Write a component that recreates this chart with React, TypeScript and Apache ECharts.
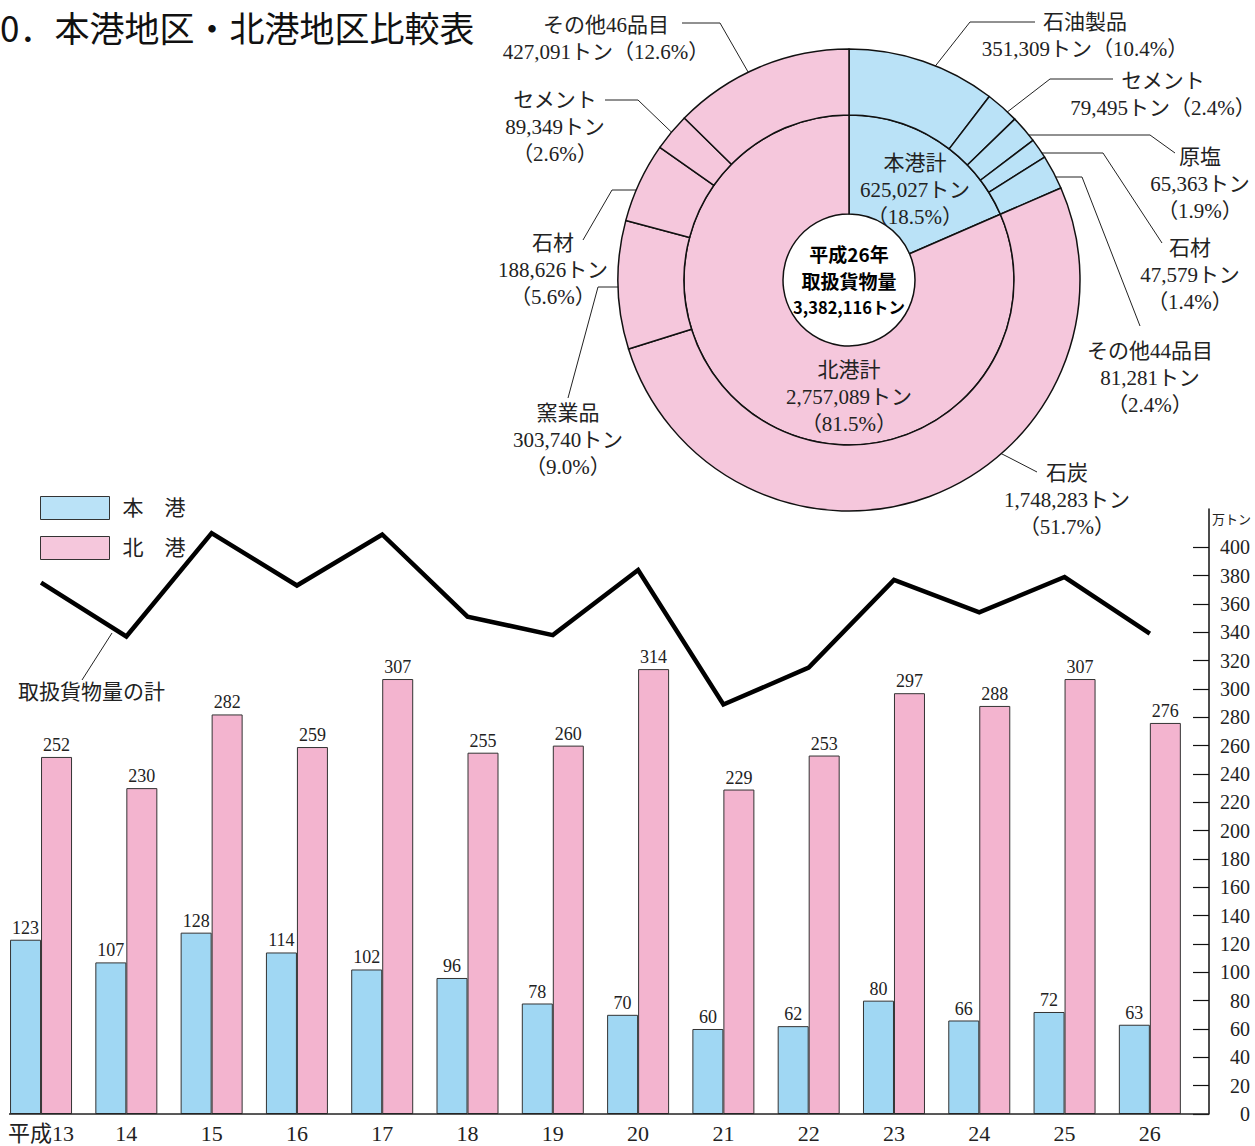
import React, { useEffect, useRef } from "react";
import * as echarts from "echarts";

// ---- bar / line data (万トン) ----
const years = ["平成13", "14", "15", "16", "17", "18", "19", "20", "21", "22", "23", "24", "25", "26"];
const honkoValues = [123, 107, 128, 114, 102, 96, 78, 70, 60, 62, 80, 66, 72, 63];
const hokkoValues = [252, 230, 282, 259, 307, 255, 260, 314, 229, 253, 297, 288, 307, 276];
const totalValues = [375, 337, 410, 373, 409, 351, 338, 384, 289, 315, 377, 354, 379, 339];
const yTickValues = [0, 20, 40, 60, 80, 100, 120, 140, 160, 180, 200, 220, 240, 260, 280, 300, 320, 340, 360, 380, 400];

// ---- donut data (トン) ----
const grandTotal = 3382116;
const innerNames = ["本港計", "北港計"];
const innerValues = [625027, 2757089];
const innerPct = ["18.5", "81.5"];
const outerNames = ["石油製品", "セメント", "原塩", "石材", "その他44品目", "石炭", "窯業品", "石材", "セメント", "その他46品目"];
const outerValues = [351309, 79495, 65363, 47579, 81281, 1748283, 303740, 188626, 89349, 427091];
const outerPct = ["10.4", "2.4", "1.9", "1.4", "2.4", "51.7", "9.0", "5.6", "2.6", "12.6"];
const outerPort = [0, 0, 0, 0, 0, 1, 1, 1, 1, 1]; // 0 本港, 1 北港

// ---- styling / layout (not data) ----
const PIE_BLUE = "#bae2f7";
const PIE_PINK = "#f5c7dc";
const BAR_BLUE = "#a0d7f3";
const BAR_PINK = "#f3b4cf";
const SERIF = "'Liberation Serif', 'Noto Sans CJK JP', serif";
const SANS = "'Noto Sans CJK JP', sans-serif";
const PIE_CENTER = [849, 280];
const outerLines = [2, 2, 3, 3, 3, 3, 3, 3, 3, 2];
const outerLabelPos = [
  [1085, 35], [1163, 94], [1200, 184], [1190, 275], [1150, 378],
  [1067, 500], [568, 440], [553, 270], [555, 127], [606, 38],
];
const outerLeader = [
  [[918, 88], [970, 22], [1035, 22]],
  [[993, 123], [1050, 79], [1113, 79]],
  [[1020, 135], [1150, 135], [1175, 153]],
  [[1030, 153], [1103, 153], [1162, 243]],
  [[1042, 177], [1082, 177], [1140, 326]],
  [[978, 442], [1008, 457], [1037, 472]],
  [[638, 287], [598, 287], [568, 398]],
  [[663, 190], [612, 190], [583, 240]],
  [[688, 148], [638, 100], [605, 100]],
  [[763, 98], [720, 23], [682, 23]],
];
const innerLabelPos = [[915, 190], [849, 397]];

const fmt = (v: number) => v.toLocaleString("en-US");

export default function App() {
  const ref = useRef<HTMLDivElement>(null);
  useEffect(() => {
    if (!ref.current) return;
    const chart = echarts.init(ref.current, undefined, { renderer: "svg" });

    const outerData = outerNames.map((n, i) => ({
      name: n,
      value: outerValues[i],
      itemStyle: { color: outerPort[i] === 0 ? PIE_BLUE : PIE_PINK },
    }));
    const innerData = innerNames.map((n, i) => ({
      name: n,
      value: innerValues[i],
      itemStyle: { color: i === 0 ? PIE_BLUE : PIE_PINK },
    }));

    const option: any = {
      animation: false,
      title: {
        text: "0．本港地区・北港地区比較表",
        left: -5,
        top: 4,
        textStyle: { fontSize: 35, fontWeight: "normal", fontFamily: SANS, color: "#111" },
      },
      legend: {
        orient: "vertical",
        left: 35,
        top: 491,
        itemWidth: 69,
        itemHeight: 23,
        itemGap: 16,
        icon: "rect",
        selectedMode: false,
        textStyle: { fontSize: 21, fontFamily: SERIF, color: "#222", padding: [0, 0, 0, 8] },
        data: [
          { name: "本　港", itemStyle: { color: PIE_BLUE, borderColor: "#333", borderWidth: 1 } },
          { name: "北　港", itemStyle: { color: PIE_PINK, borderColor: "#333", borderWidth: 1 } },
        ],
      },
      grid: { left: -1.6, right: 62.5, top: 509, bottom: 32, containLabel: false, outerBoundsMode: "none" },
      xAxis: {
        type: "category",
        data: years,
        axisLine: { show: false },
        axisTick: { show: false },
        axisLabel: { interval: 0, fontSize: 22, fontFamily: SERIF, color: "#222", margin: 8 },
      },
      yAxis: {
        type: "value",
        position: "right",
        offset: 16.5,
        min: 0,
        max: 427,
        name: "万トン",
        nameLocation: "end",
        nameGap: -9,
        nameTextStyle: { align: "left", verticalAlign: "middle", fontSize: 13, fontFamily: SANS, color: "#222", padding: [0, 0, 0, 3] },
        axisLine: { show: true, lineStyle: { color: "#111", width: 1.5 } },
        axisTick: { show: true, inside: true, length: 16, customValues: yTickValues, lineStyle: { color: "#111", width: 1.2 } },
        axisLabel: { customValues: yTickValues, align: "right", margin: 41, fontSize: 20, fontFamily: SERIF, color: "#222" },
        splitLine: { show: false },
      },
      series: [
        {
          name: "本　港",
          type: "bar",
          data: honkoValues,
          barWidth: 31,
          barGap: "0%",
          itemStyle: { color: BAR_BLUE, borderColor: "#333", borderWidth: 1 },
          label: { show: true, position: "top", distance: 3, fontSize: 18, fontFamily: SERIF, color: "#222" },
          emphasis: { disabled: true },
        },
        {
          name: "北　港",
          type: "bar",
          data: hokkoValues,
          barWidth: 31,
          itemStyle: { color: BAR_PINK, borderColor: "#333", borderWidth: 1 },
          label: { show: true, position: "top", distance: 3, fontSize: 18, fontFamily: SERIF, color: "#222" },
          emphasis: { disabled: true },
        },
        {
          name: "取扱貨物量の計",
          type: "line",
          data: totalValues,
          symbol: "none",
          z: 5,
          lineStyle: { color: "#000", width: 4.5, join: "miter" },
          emphasis: { disabled: true },
        },
        {
          name: "center",
          type: "pie",
          center: PIE_CENTER,
          radius: [0, 66],
          silent: true,
          data: [{ name: "平成26年取扱貨物量", value: grandTotal, itemStyle: { color: "#fff" } }],
          label: {
            show: true,
            position: "center",
            formatter: () => "{a|平成26年}\n{a|取扱貨物量}\n{b|" + fmt(grandTotal) + "トン}",
            rich: {
              a: { fontSize: 19, lineHeight: 27, fontWeight: "bold", fontFamily: SANS, color: "#000" },
              b: { fontSize: 16.5, lineHeight: 27, fontWeight: "bold", fontFamily: SANS, color: "#000" },
            },
          },
          labelLine: { show: false },
          emphasis: { disabled: true },
        },
        {
          name: "inner",
          type: "pie",
          center: PIE_CENTER,
          radius: [66, 165],
          startAngle: 90,
          clockwise: true,
          silent: true,
          data: innerData,
          itemStyle: { borderColor: "#111", borderWidth: 1.5 },
          label: {
            show: true,
            position: "inside",
            formatter: (p: any) => `${innerNames[p.dataIndex]}\n${fmt(innerValues[p.dataIndex])}トン\n（${innerPct[p.dataIndex]}%）`,
            fontSize: 21,
            lineHeight: 27,
            fontFamily: SERIF,
            color: "#222",
          },
          labelLayout: (p: any) => ({
            x: innerLabelPos[p.dataIndex][0],
            y: innerLabelPos[p.dataIndex][1],
            align: "center",
            verticalAlign: "middle",
          }),
          labelLine: { show: false },
          emphasis: { disabled: true },
        },
        {
          name: "outer",
          type: "pie",
          center: PIE_CENTER,
          radius: [165, 231],
          startAngle: 90,
          clockwise: true,
          silent: true,
          data: outerData,
          itemStyle: { borderColor: "#111", borderWidth: 1.5 },
          label: {
            show: true,
            position: "outside",
            formatter: (p: any) => {
              const i = p.dataIndex;
              const sep = outerLines[i] === 3 ? "\n" : "";
              return `${outerNames[i]}\n${fmt(outerValues[i])}トン${sep}（${outerPct[i]}%）`;
            },
            fontSize: 21,
            lineHeight: 27,
            fontFamily: SERIF,
            color: "#222",
            textAlign: "center",
          },
          labelLine: { show: true, lineStyle: { color: "#222", width: 1 } },
          labelLayout: (p: any) => ({
            x: outerLabelPos[p.dataIndex][0],
            y: outerLabelPos[p.dataIndex][1],
            align: "center",
            verticalAlign: "middle",
            labelLinePoints: outerLeader[p.dataIndex],
          }),
          emphasis: { disabled: true },
        },
      ],
      graphic: [
        { type: "line", shape: { x1: 9, y1: 1114, x2: 1209, y2: 1114 }, style: { stroke: "#222", lineWidth: 1.5 }, z: 10 },
        { type: "line", shape: { x1: 112, y1: 633, x2: 82, y2: 680 }, style: { stroke: "#222", lineWidth: 1 } },
        {
          type: "text",
          x: 18,
          y: 692,
          style: { text: "取扱貨物量の計", fontSize: 21, fontFamily: SERIF, fill: "#222", verticalAlign: "middle" },
        },
      ],
    };
    chart.setOption(option);
    return () => chart.dispose();
  }, []);
  return <div ref={ref} style={{ position: "absolute", left: 0, top: 0, width: 1255, height: 1146 }} />;
}
